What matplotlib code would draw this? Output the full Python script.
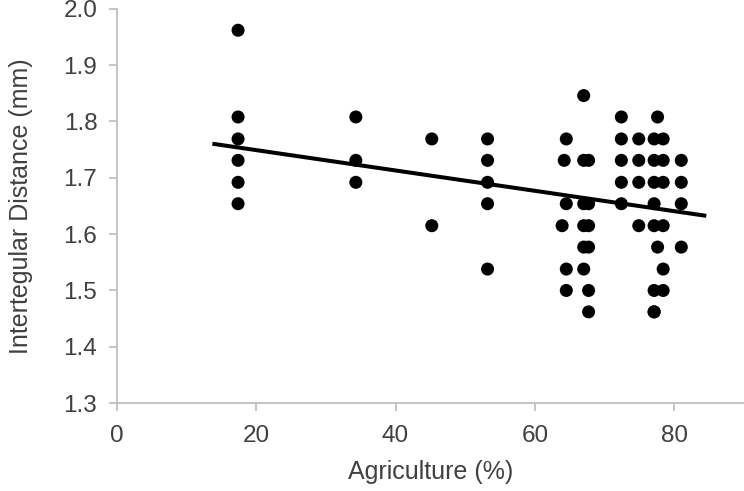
import numpy as np
import matplotlib.pyplot as plt

plt.rcParams['font.family'] = ['Liberation Sans', 'DejaVu Sans']

# agriculture (%) for each bee, and intertegular distance (mm)
agri_17 = [17.4] * 6
itd_17 = [1.962, 1.808, 1.769, 1.731, 1.692, 1.654]
agri_34 = [34.3] * 3
itd_34 = [1.808, 1.731, 1.692]
agri_45 = [45.2] * 2
itd_45 = [1.769, 1.615]
agri_53 = [53.2] * 5
itd_53 = [1.769, 1.731, 1.692, 1.654, 1.538]
agri_64 = [64.5, 64.2, 64.5, 63.9, 64.5, 64.5]
itd_64 = [1.769, 1.731, 1.654, 1.615, 1.538, 1.500]
agri_67a = [67.0] * 6
itd_67a = [1.846, 1.731, 1.654, 1.615, 1.577, 1.538]
agri_67b = [67.7] * 6
itd_67b = [1.731, 1.654, 1.615, 1.577, 1.500, 1.462]
agri_72 = [72.4] * 5
itd_72 = [1.808, 1.769, 1.731, 1.692, 1.654]
agri_75 = [74.9] * 4
itd_75 = [1.769, 1.731, 1.692, 1.615]
agri_77a = [77.1] * 8
itd_77a = [1.769, 1.731, 1.692, 1.654, 1.615, 1.500, 1.462, 1.462]
agri_77b = [77.6] * 2
itd_77b = [1.808, 1.577]
agri_78 = [78.4] * 6
itd_78 = [1.769, 1.731, 1.692, 1.615, 1.538, 1.500]
agri_81 = [81.0] * 4
itd_81 = [1.731, 1.692, 1.654, 1.577]

x = np.array(agri_17 + agri_34 + agri_45 + agri_53 + agri_64 + agri_67a + agri_67b
             + agri_72 + agri_75 + agri_77a + agri_77b + agri_78 + agri_81)
y = np.array(itd_17 + itd_34 + itd_45 + itd_53 + itd_64 + itd_67a + itd_67b
             + itd_72 + itd_75 + itd_77a + itd_77b + itd_78 + itd_81)

# trend line as drawn (ends and values)
trend_x = [14.0, 84.3]
trend_y = [1.760, 1.633]

fig = plt.figure(figsize=(7.44, 4.91), dpi=100)
ax = fig.add_axes([0.157, 0.179, 0.843, 0.803])

ax.scatter(x, y, s=88, c='black', edgecolors='none', zorder=3)
ax.plot(trend_x, trend_y, color='black', lw=2.9, zorder=4)

ax.set_xlim(0, 90)
ax.set_ylim(1.3, 2.0)
ax.set_xticks([0, 20, 40, 60, 80])
ax.set_yticks(np.arange(1.3, 2.01, 0.1))
ax.set_yticklabels(['%.1f' % v for v in np.arange(1.3, 2.01, 0.1)])

for s in ['top', 'right']:
    ax.spines[s].set_visible(False)
for s in ['left', 'bottom']:
    ax.spines[s].set_color('#bfbfbf')
    ax.spines[s].set_linewidth(1.3)
    ax.spines[s].set_clip_on(False)

ax.tick_params(colors='#bfbfbf', labelcolor='#404040', labelsize=17.5,
               length=6, width=1.3, direction='out')
ax.tick_params(axis='x', pad=10)
ax.tick_params(axis='y', pad=8)

ax.set_xlabel('Agriculture (%)', fontsize=18, color='#404040', labelpad=9)
ax.set_ylabel('Intertegular Distance (mm)', fontsize=18, color='#404040', labelpad=22)

fig.savefig('out.png', dpi=100)
